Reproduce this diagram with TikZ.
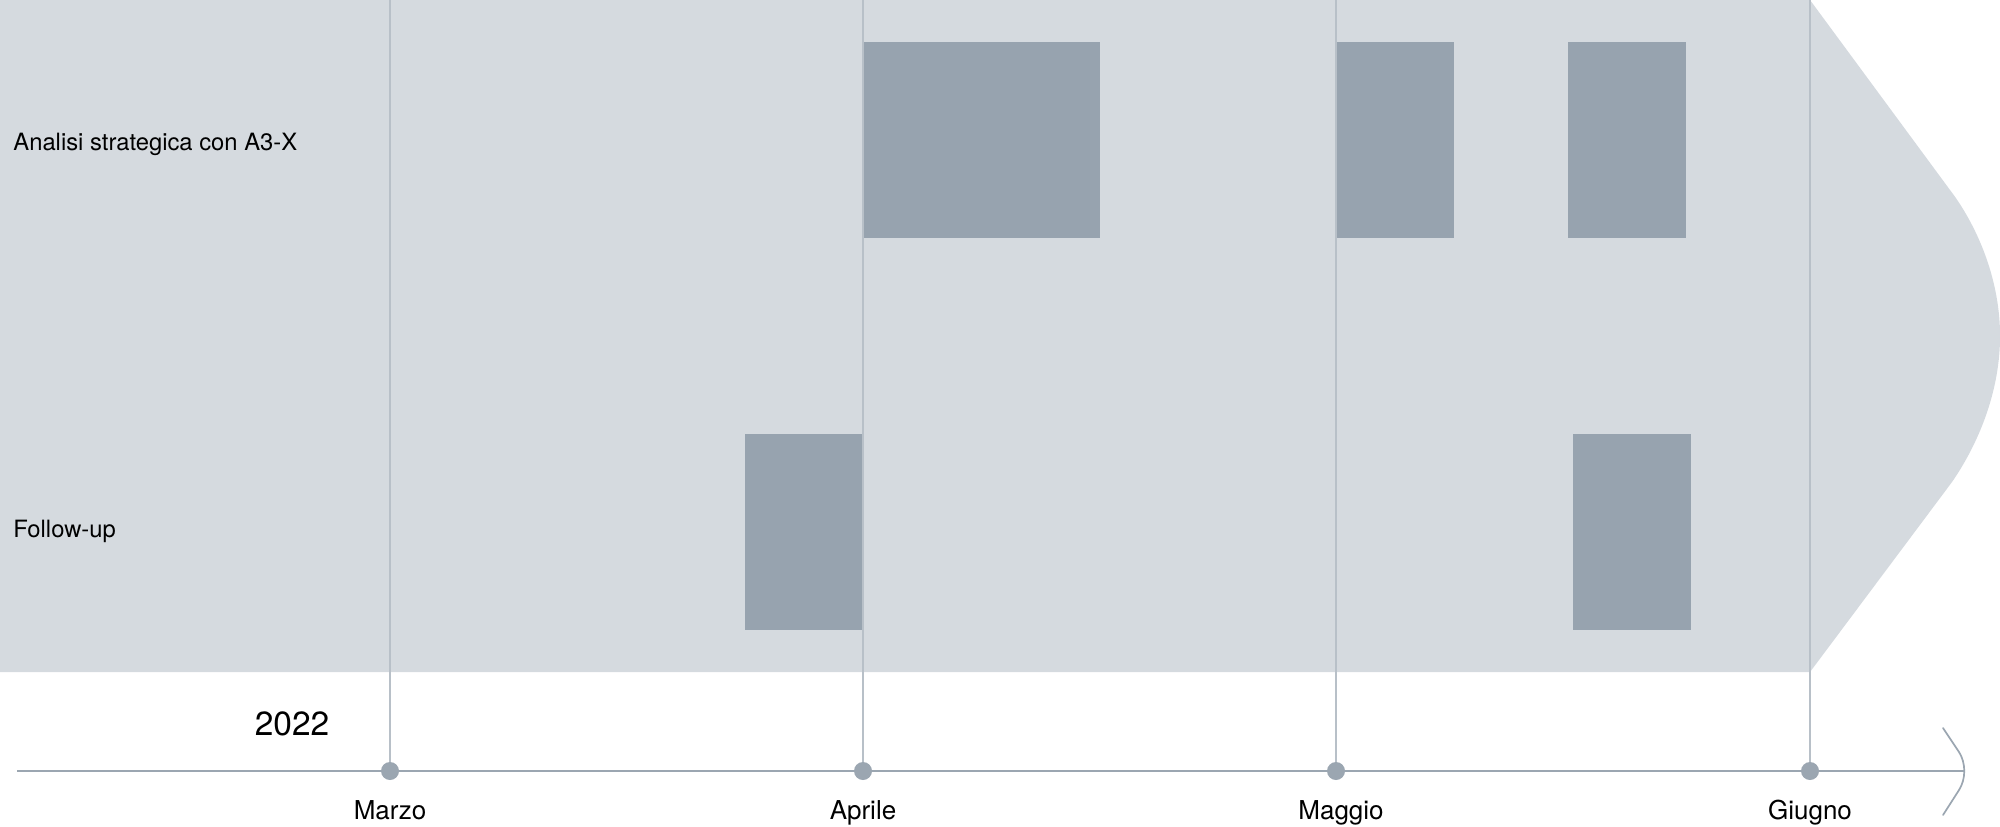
\documentclass[tikz,border=0pt]{standalone}
\usepackage{fontspec}
\setmainfont{TeX Gyre Heros}
\definecolor{bandcol}{RGB}{213,218,223}
\definecolor{barcol}{RGB}{151,163,175}
\definecolor{gridcol}{RGB}{184,192,200}
\definecolor{axiscol}{RGB}{155,166,177}

\begin{document}
\begin{tikzpicture}[x=0.5pt,y=-0.5pt,
                    bar/.style={fill=barcol},
                    month line/.style={draw=gridcol,line width=0.55pt},
                    axis/.style={draw=axiscol,line width=0.85pt},
                    dot/.style={circle,fill=axiscol,inner sep=0pt,minimum size=9pt},
                    month/.style={anchor=base,font=\fontsize{13}{15}\selectfont},
                    row label/.style={anchor=base west,inner sep=0pt,font=\fontsize{11.9}{14}\selectfont}]

  \useasboundingbox (0,0) rectangle (2000,826);

  % band with arrow-shaped end
  \fill[bandcol] (0,0) -- (1810,0) -- (1950,190)
    .. controls (1970,216) and (2000,270) .. (2000,336)
    .. controls (2000,402) and (1970,456) .. (1952,482)
    -- (1810,672) -- (0,672) -- cycle;

  % activity bars
  \fill[bar] (863,42) rectangle (1100,238);
  \fill[bar] (1336,42) rectangle (1454,238);
  \fill[bar] (1568,42) rectangle (1686,238);
  \fill[bar] (745,434) rectangle (863,630);
  \fill[bar] (1573,434) rectangle (1691,630);

  \node[row label] (analisi) at (13,150) {Analisi strategica con A3-X};
  \node[row label] (followup) at (13,537) {Follow-up};

  % time axis
  \coordinate (start) at (17,771);
  \coordinate (tip) at (1965,771);
  \draw[axis] (start) -- (tip);
  \draw[axis,line cap=round] (1943,728) -- (1959,752)
    .. controls (1966,763) and (1966,779) .. (1959,790) -- (1943,815);

  \coordinate (tmarzo) at (390,0);
  \coordinate (taprile) at (863,0);
  \coordinate (tmaggio) at (1336,0);
  \coordinate (tgiugno) at (1810,0);

  \node[dot] (marzo) at (390,771) {};
  \node[dot] (aprile) at (863,771) {};
  \node[dot] (maggio) at (1336,771) {};
  \node[dot] (giugno) at (1810,771) {};

  \path[month line]
    (tmarzo) edge (marzo)
    (taprile) edge (aprile)
    (tmaggio) edge (maggio)
    (tgiugno) edge (giugno);

  \node[month] (lmarzo) at (390,819) {Marzo};
  \node[month] (laprile) at (863,819) {Aprile};
  \node[month] (lmaggio) at (1341,819) {Maggio};
  \node[month] (lgiugno) at (1810,819) {Giugno};

  \node[anchor=base,font=\fontsize{16.75}{20}\selectfont] (anno) at (292,735) {2022};
\end{tikzpicture}
\end{document}
